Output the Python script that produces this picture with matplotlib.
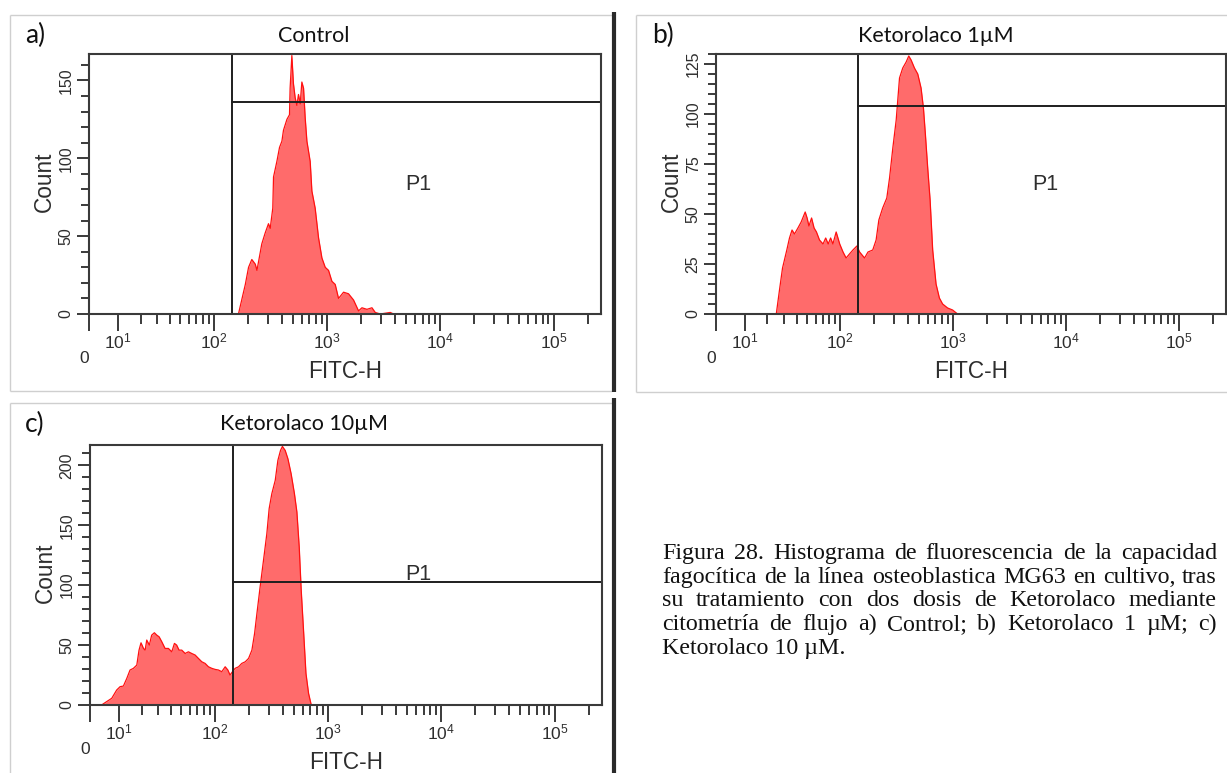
import matplotlib
matplotlib.use("Agg")
import matplotlib.pyplot as plt
from matplotlib.lines import Line2D
from matplotlib.ticker import FixedLocator, NullFormatter

plt.rcParams["font.family"] = ["Liberation Sans", "DejaVu Sans"]
plt.rcParams["mathtext.default"] = "regular"

# ---------------------------------------------------------------- data
# FITC-H intensity (channel value) and event count along each histogram outline
control_fitc = [166, 191, 204, 218, 234, 242, 258, 267, 286, 306, 317, 334, 339, 363, 383,
                402, 415, 445, 469, 475, 492, 508, 526, 545, 563, 583, 603, 624, 645, 668,
                714, 739, 790, 846, 906, 969, 1037, 1110, 1187, 1270, 1406, 1555, 1722, 1907,
                2043, 2261, 2503, 2677, 2963, 3631, 3882]
control_count = [0, 19, 30, 35, 32, 28, 39, 45, 52, 58, 55, 68, 88, 98, 107,
                 111, 118, 125, 128, 145, 166, 148, 139, 134, 141, 135, 149, 145, 126, 111,
                 98, 79, 68, 49, 36, 30, 28, 21, 19, 10, 14, 13, 9, 2,
                 4, 3, 4, 1, 0, 1, 0]

keto1_fitc = [25, 27, 29, 32, 34, 36, 38, 41, 44, 48, 50, 52, 55, 58, 61,
              65, 70, 74, 78, 82, 86, 92, 99, 106, 113, 121, 130, 141, 149, 165,
              177, 195, 209, 221, 239, 260, 275, 294, 315, 337, 360, 386, 407, 427, 457,
              489, 523, 549, 571, 599, 629, 663, 710, 760, 812, 899, 995, 1101]
keto1_count = [0, 12, 23, 32, 38, 42, 40, 43, 46, 51, 48, 44, 48, 43, 41,
               37, 35, 38, 35, 38, 35, 41, 35, 31, 28, 30, 32, 34, 31, 28,
               31, 32, 37, 47, 53, 58, 68, 83, 97, 118, 123, 126, 129, 127, 123,
               120, 113, 103, 90, 73, 57, 32, 15, 8, 5, 3, 2, 0]

keto10_fitc = [3.8, 5.5, 7.3, 9.1, 10.4, 11.7, 13.1, 14.5, 16.0, 17.6, 18.7, 19.7, 21.0, 21.9,
               22.8, 24.3, 25.7, 27.4, 29.0, 30.6, 32.5, 35.0, 37.7, 40.6, 43.0, 45.1, 47.5,
               50.3, 54.1, 57.9, 62.1, 66.7, 71.4, 76.6, 82.1, 87.9, 94.2, 101, 108, 115.7,
               124, 131, 137, 144, 152, 163, 174, 187, 200, 214, 226, 237, 253, 271, 290,
               304, 321, 344, 363, 383, 398, 421, 445, 475, 508, 534, 560, 583, 611, 642,
               677, 715]
keto10_count = [0, 2.8, 5.6, 12.5, 15.3, 15.8, 22.2, 29.2, 30.6, 33.3, 45.8, 51.9, 47.2, 45.8,
                54.2, 50, 58.3, 60.3, 58.3, 56.9, 52.8, 47.2, 47.2, 44.4, 51.4, 50, 45.8,
                45.8, 43, 44.4, 43, 41.7, 38.9, 36.1, 34.7, 31.9, 30.6, 29.7, 29.2, 27.8,
                31.9, 29.2, 25, 27.8, 30.6, 31.9, 34.7, 36.1, 38.9, 45.8, 59.7, 76.4, 98.6,
                120.8, 143, 163.9, 176.4, 187.5, 204.2, 212.5, 215.8, 212.5, 205.5, 193,
                176.4, 161.1, 131.9, 95.8, 62.5, 26.4, 9.7, 0]

panel_letters = ["a)", "b)", "c)"]
panel_titles = ["Control", "Ketorolaco 1µM", "Ketorolaco 10µM"]
count_max = [167, 130, 217]
count_major = [[0, 50, 100, 150], [0, 25, 50, 75, 100, 125], [0, 50, 100, 150, 200]]
count_minor_step = [10, 5, 10]
gate_start = 145            # lower FITC-H bound of the P1 interval gate
gate_height = [136, 104, 103]
gate_name = "P1"

fitc_max = 262144
fitc_major = [0, 10, 100, 1000, 10000, 100000]
fitc_major_labels = ["", r"$10^{1}$", r"$10^{2}$", r"$10^{3}$", r"$10^{4}$", r"$10^{5}$"]
fitc_minor = [k * 10 ** n for n in range(1, 5) for k in range(2, 10)] + [200000]

caption_lines = [
    "Figura 28. Histograma de fluorescencia de la capacidad",
    "fagocítica de la línea osteoblastica MG63 en cultivo, tras",
    "su tratamiento con dos dosis de Ketorolaco mediante",
    "citometría de flujo a) Control; b) Ketorolaco 1 µM; c)",
    "Ketorolaco 10 µM.",
]

# ---------------------------------------------------------------- style
FIG_W, FIG_H, DPI = 1227, 773, 100
FILL = "#ff6b6b"
EDGE = "#ff1010"
GATE = "#1e1e1e"
SPINE = "#3a3a3a"
INK = "#2e2e2e"

fig = plt.figure(figsize=(FIG_W / DPI, FIG_H / DPI), dpi=DPI)
fig.patch.set_facecolor("white")


def fx(px):
    return px / FIG_W


def fy(py):
    return 1 - py / FIG_H


def fig_line(x0, y0, x1, y1, color, lw):
    fig.add_artist(Line2D([fx(x0), fx(x1)], [fy(y0), fy(y1)],
                          transform=fig.transFigure, color=color, lw=lw,
                          solid_capstyle="butt"))


# panel frames
LIGHT = "#cfcfcf"
fig_line(10, 15, 612, 15, LIGHT, 1.0)
fig_line(10, 15, 10, 391, LIGHT, 1.0)
fig_line(10, 391, 612, 391, LIGHT, 1.0)
fig_line(614, 12, 614, 392, "#2a2a2a", 3.0)
fig_line(636, 15, FIG_W, 15, LIGHT, 1.0)
fig_line(636, 15, 636, 392, LIGHT, 1.0)
fig_line(636, 392, FIG_W, 392, LIGHT, 1.0)
fig_line(10, 403, 612, 403, LIGHT, 1.0)
fig_line(10, 403, 10, FIG_H, LIGHT, 1.0)
fig_line(614, 398, 614, FIG_H, "#2a2a2a", 3.0)

# axes rectangles in pixels: left, top, width, height
axes_px = [(89, 54, 512, 260), (716, 54, 510, 260), (90, 445, 512, 260)]
title_px = [(313.5, 41.5), (936, 41.5), (303.6, 430)]
letter_px = [(25, 43), (652, 43), (25, 432)]
gate_label_pos = [(0.644, 0.477), (0.645, 0.477), (0.642, 0.481)]

series = [(control_fitc, control_count), (keto1_fitc, keto1_count),
          (keto10_fitc, keto10_count)]

for i, (fitc, counts) in enumerate(series):
    left, top, w, h = axes_px[i]
    ax = fig.add_axes([fx(left), fy(top + h), w / FIG_W, h / FIG_H])
    ax.set_xscale("asinh", linear_width=16)
    ax.set_xlim(0, fitc_max)
    ax.set_ylim(0, count_max[i])

    ax.fill_between(fitc, counts, 0, color=FILL, lw=0, zorder=2)
    ax.plot(fitc, counts, color=EDGE, lw=0.9, zorder=3)

    # P1 interval gate
    ax.axvline(gate_start, color=GATE, lw=1.4, zorder=4)
    ax.plot([gate_start, fitc_max], [gate_height[i]] * 2, color=GATE, lw=1.4, zorder=4)
    ax.text(*gate_label_pos[i], gate_name, transform=ax.transAxes, ha="center",
            va="baseline", fontsize=15.5, color=INK)

    for sp in ax.spines.values():
        sp.set_color(SPINE)
        sp.set_linewidth(1.5)
        sp.set_zorder(5)

    # x axis: biexponential-like FITC-H scale
    ax.set_xticks(fitc_major)
    ax.set_xticklabels(fitc_major_labels)
    ax.xaxis.set_minor_locator(FixedLocator(fitc_minor))
    ax.xaxis.set_minor_formatter(NullFormatter())
    ax.tick_params(axis="x", which="major", direction="out", length=12, width=1.4,
                   color=SPINE, pad=0.5, labelsize=12.5, labelcolor=INK)
    ax.tick_params(axis="x", which="minor", direction="out", length=7.5, width=1.4,
                   color=SPINE)
    ax.text(0, -0.187, "0", transform=ax.get_xaxis_transform(), ha="right",
            va="baseline", fontsize=12.5, color=INK)

    # y axis: counts
    ax.set_yticks(count_major[i])
    ax.set_yticklabels([str(v) for v in count_major[i]], rotation=90, va="center",
                       ha="right")
    step = count_minor_step[i]
    ax.yaxis.set_minor_locator(FixedLocator(list(range(0, count_max[i] + 1, step))))
    ax.tick_params(axis="y", which="major", direction="out", length=9, width=1.4,
                   color=SPINE, pad=2, labelsize=11.5, labelcolor=INK)
    ax.tick_params(axis="y", which="minor", direction="out", length=5.5, width=1.4,
                   color=SPINE)

    ax.text(-0.075, 0.51, "Count", transform=ax.transAxes, rotation=90,
            rotation_mode="anchor", ha="center", va="baseline", fontsize=16.3, color=INK)
    ax.text(0.5, -0.246, "FITC-H", transform=ax.transAxes, ha="center",
            va="baseline", fontsize=16.3, color=INK)

    tx, ty = title_px[i]
    fig.text(fx(tx), fy(ty), panel_titles[i], ha="center", va="baseline",
             fontsize=15.5, family="Lato", color="#111111")
    lx, ly = letter_px[i]
    fig.text(fx(lx), fy(ly), panel_letters[i], ha="left", va="baseline",
             fontsize=19, family="Lato", color="#111111")

# justified caption
CAP_LEFT, CAP_RIGHT = 662, 1217
CAP_BASE, CAP_STEP = 559, 23.7
cap_font = "Liberation Serif"
cap_size = 17.3
renderer = fig.canvas.get_renderer()


def cap_text(x, y, s):
    return fig.text(x, y, s, fontsize=cap_size, fontfamily=cap_font, color="#111111",
                    va="baseline", ha="left")


for n, line in enumerate(caption_lines):
    y = fy(CAP_BASE + n * CAP_STEP)
    if n == len(caption_lines) - 1:
        cap_text(fx(CAP_LEFT), y, line)
        continue
    words = line.split(" ")
    widths = []
    for wd in words:
        t = cap_text(0, 0, wd)
        widths.append(t.get_window_extent(renderer).width)
        t.remove()
    gap = (CAP_RIGHT - CAP_LEFT - sum(widths)) / (len(words) - 1)
    x = CAP_LEFT
    for wd, wdt in zip(words, widths):
        cap_text(fx(x), y, wd)
        x += wdt + gap

fig.savefig("out.png", dpi=DPI, facecolor="white")
